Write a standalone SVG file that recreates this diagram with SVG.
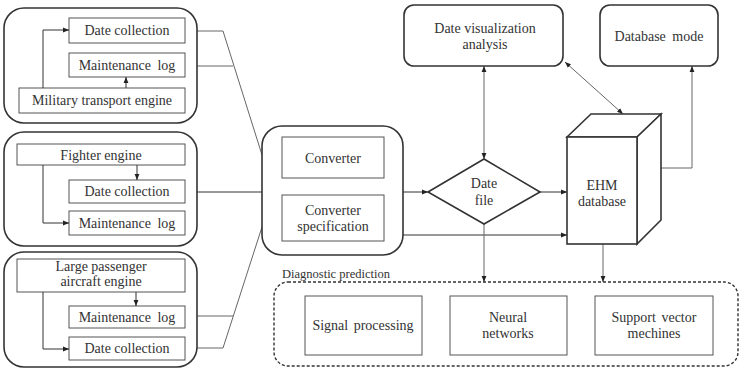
<svg xmlns="http://www.w3.org/2000/svg" width="741" height="369" viewBox="0 0 741 369" font-family="'Liberation Serif', 'Times New Roman', serif">
<style>
text{font-family:'Liberation Serif','Times New Roman',serif;font-size:14px;fill:#333;text-anchor:middle}
.grp{fill:#fff;stroke:#333;stroke-width:1.6}
.box{fill:#fff;stroke:#555;stroke-width:1}
.rbox{fill:#fff;stroke:#333;stroke-width:1.6}
.ln{fill:none;stroke:#666;stroke-width:1}
.lnd{fill:none;stroke:#333;stroke-width:1}
.arr{marker-end:url(#ah)}
.arr2{marker-start:url(#ahs);marker-end:url(#ah)}
</style>
<defs>
<marker id="ah" viewBox="0 0 10 10" refX="10" refY="5" markerWidth="6" markerHeight="6" markerUnits="userSpaceOnUse" orient="auto"><path d="M0,1 L10,5 L0,9 z" fill="#222"/></marker>
<marker id="ahs" viewBox="0 0 10 10" refX="0" refY="5" markerWidth="6" markerHeight="6" markerUnits="userSpaceOnUse" orient="auto"><path d="M10,1 L0,5 L10,9 z" fill="#222"/></marker>
</defs>

<g id="connectors">
  <polyline class="ln" points="185,31 223,31 262,155"/>
  <line class="ln" x1="185" y1="66" x2="233" y2="66"/>
  <line class="lnd" x1="185" y1="192" x2="262" y2="192"/>
  <polyline class="ln" points="185,348 223,348 262,227"/>
  <line class="ln" x1="185" y1="316" x2="233" y2="316"/>
  <line class="lnd arr" x1="403" y1="192" x2="428" y2="192"/>
  <line class="lnd arr" x1="403" y1="235" x2="567" y2="235"/>
  <line class="lnd arr" x1="540" y1="192" x2="567" y2="192"/>
  <line class="ln arr2" x1="484" y1="66" x2="484" y2="159"/>
  <line class="ln arr2" x1="565" y1="62" x2="623" y2="114"/>
  <polyline class="ln arr" points="661,168 692,168 692,66"/>
  <line class="ln arr" x1="484" y1="224" x2="484" y2="282"/>
  <line class="ln arr" x1="603" y1="244" x2="603" y2="282"/>
</g>

<g id="military-group">
  <rect class="grp" x="4" y="8" width="193" height="115" rx="20"/>
  <rect class="box" x="69" y="18" width="116" height="25"/>
  <text x="127" y="35">Date collection</text>
  <rect class="box" x="69" y="53" width="116" height="24"/>
  <text x="127" y="70" word-spacing="3">Maintenance log</text>
  <rect class="box" x="19" y="88" width="166" height="25"/>
  <text x="102" y="105">Military transport engine</text>
  <polyline class="lnd arr" points="43,88 43,30 69,30"/>
  <line class="lnd arr" x1="126" y1="88" x2="126" y2="77"/>
</g>

<g id="fighter-group">
  <rect class="grp" x="4" y="132" width="193" height="114" rx="20"/>
  <rect class="box" x="17" y="144" width="168" height="21"/>
  <text x="101" y="160">Fighter engine</text>
  <rect class="box" x="69" y="180" width="116" height="23"/>
  <text x="127" y="196">Date collection</text>
  <rect class="box" x="69" y="211" width="116" height="24"/>
  <text x="127" y="228" word-spacing="3">Maintenance log</text>
  <line class="lnd arr" x1="137" y1="165" x2="137" y2="180"/>
  <polyline class="lnd arr" points="43,165 43,223 69,223"/>
</g>

<g id="passenger-group">
  <rect class="grp" x="4" y="252" width="193" height="115" rx="20"/>
  <rect class="box" x="17" y="259" width="168" height="33"/>
  <text x="101" y="271">Large passenger</text>
  <text x="101" y="286">aircraft engine</text>
  <rect class="box" x="69" y="306" width="116" height="22"/>
  <text x="127" y="322" word-spacing="3">Maintenance log</text>
  <rect class="box" x="69" y="337" width="116" height="23"/>
  <text x="127" y="353">Date collection</text>
  <line class="lnd arr" x1="136" y1="292" x2="136" y2="306"/>
  <polyline class="lnd arr" points="43,292 43,349 69,349"/>
</g>

<g id="converter-group">
  <rect class="grp" x="262" y="126" width="141" height="129" rx="20"/>
  <rect class="box" x="282" y="137" width="102" height="41"/>
  <text x="333" y="163">Converter</text>
  <rect class="box" x="282" y="195" width="102" height="46"/>
  <text x="333" y="215">Converter</text>
  <text x="333" y="231">specification</text>
</g>

<g id="date-file">
  <polygon points="428,192 484,159 540,192 484,224" fill="#fff" stroke="#333" stroke-width="1.6"/>
  <text x="484" y="188">Date</text>
  <text x="484" y="205">file</text>
</g>

<g id="visualization">
  <rect class="rbox" x="404" y="5" width="159" height="61" rx="10"/>
  <text x="485" y="33">Date visualization</text>
  <text x="485" y="49">analysis</text>
</g>

<g id="database-mode">
  <rect class="rbox" x="600" y="5" width="118" height="61" rx="10"/>
  <text x="659" y="41" word-spacing="3">Database mode</text>
</g>

<g id="ehm-database">
  <polygon points="567,137 591,114 661,114 637,137" fill="#fff" stroke="#333" stroke-width="1.6"/>
  <polygon points="637,137 661,114 661,220 637,244" fill="#fff" stroke="#333" stroke-width="1.6"/>
  <rect x="567" y="137" width="70" height="107" fill="#fff" stroke="#333" stroke-width="1.6"/>
  <text x="602" y="190">EHM</text>
  <text x="602" y="206">database</text>
</g>

<g id="diagnostic-prediction">
  <text x="282" y="278" style="font-size:12.5px;text-anchor:start">Diagnostic prediction</text>
  <rect x="274" y="282" width="464" height="84" rx="14" fill="none" stroke="#333" stroke-width="1.4" stroke-dasharray="3,2"/>
  <rect class="box" x="305" y="296" width="117" height="59"/>
  <text x="363" y="330" word-spacing="2">Signal processing</text>
  <rect class="box" x="450" y="296" width="117" height="59"/>
  <text x="508" y="322">Neural</text>
  <text x="508" y="338">networks</text>
  <rect class="box" x="595" y="296" width="118" height="59"/>
  <text x="654" y="322" word-spacing="2">Support vector</text>
  <text x="654" y="338">mechines</text>
</g>
</svg>
